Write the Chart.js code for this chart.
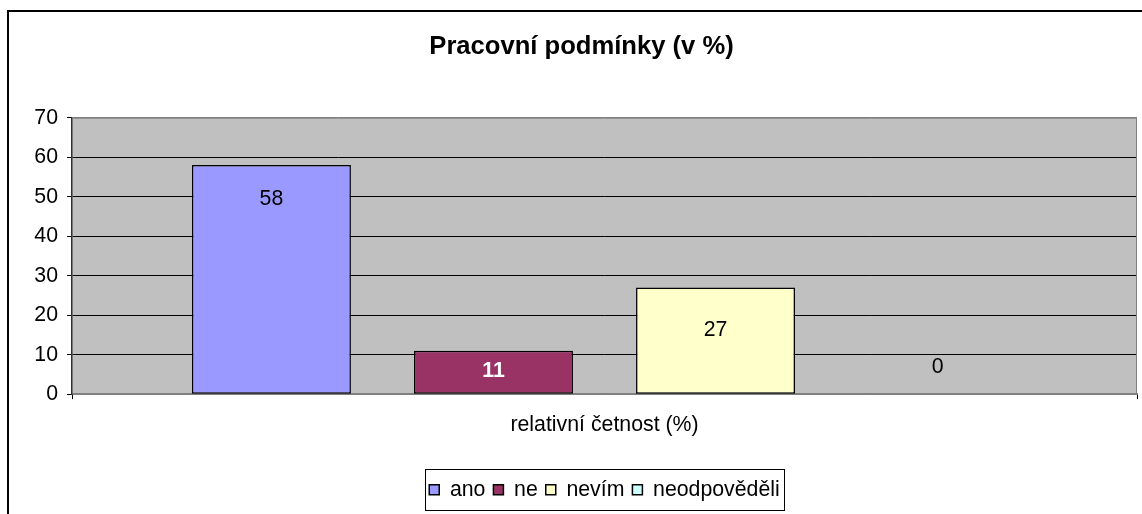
<!DOCTYPE html>
<html>
<head>
<meta charset="utf-8">
<script src="https://cdn.jsdelivr.net/npm/chart.js@4.4.0/dist/chart.umd.min.js"></script>
<style>
  html, body { margin: 0; padding: 0; background: #fff; overflow: hidden; }
  #wrap { width: 1142px; height: 514px; position: relative; }
</style>
</head>
<body>
<div id="wrap"><canvas id="chart"></canvas></div>
<script>
// data
const categories = ["relativní četnost (%)"];
const seriesNames = ["ano", "ne", "nevím", "neodpověděli"];
const seriesValues = [58, 11, 27, 0];
const yTicks = [0, 10, 20, 30, 40, 50, 60, 70];

// styles
const seriesColors = ["#9999FF", "#993366", "#FFFFCC", "#CCFFFF"];
const labelColors = ["#000", "#fff", "#000", "#000"];
const labelBold = [false, true, false, false];
const labelShift = [34, 20, 43, -27]; // px below bar top
const FONT = "'Liberation Sans', Arial, sans-serif";
const FS = 21.3;

const datasets = seriesNames.map((name, i) => ({
  label: name,
  data: [seriesValues[i]],
  backgroundColor: seriesColors[i],
  borderColor: "#000",
  borderWidth: 1.5,
  borderSkipped: false,
  categoryPercentage: 0.834,
  barPercentage: 0.716,
}));

// grey plot area + outer frame
const plotBg = {
  id: "plotBg",
  beforeDraw(chart) {
    const { ctx, chartArea: a } = chart;
    ctx.save();
    ctx.fillStyle = "#C0C0C0";
    ctx.fillRect(a.left, a.top, a.right - a.left, a.bottom - a.top);
    ctx.strokeStyle = "#000";
    ctx.lineWidth = 2;
    ctx.strokeRect(8, 11, 1200, 600);
    ctx.restore();
  },
  beforeDatasetsDraw(chart) {
    const { ctx, chartArea: a } = chart;
    ctx.save();
    ctx.strokeStyle = "#808080";
    ctx.lineWidth = 1;
    ctx.beginPath();
    ctx.moveTo(a.left, a.top + 0.5);
    ctx.lineTo(a.right - 0.5, a.top + 0.5);
    ctx.lineTo(a.right - 0.5, a.bottom);
    ctx.stroke();
    ctx.restore();
  },
};

// value labels
const valueLabels = {
  id: "valueLabels",
  afterDatasetsDraw(chart) {
    const { ctx } = chart;
    ctx.save();
    ctx.textAlign = "center";
    ctx.textBaseline = "middle";
    chart.data.datasets.forEach((ds, i) => {
      const bar = chart.getDatasetMeta(i).data[0];
      ctx.font = (labelBold[i] ? "bold " : "") + FS + "px " + FONT;
      ctx.fillStyle = labelColors[i];
      ctx.fillText(String(ds.data[0]), bar.x, bar.y + labelShift[i]);
    });
    ctx.restore();
  },
};

// border around legend
const legendBox = {
  id: "legendBox",
  afterDraw(chart) {
    const boxes = chart.legend.legendHitBoxes;
    if (!boxes || !boxes.length) return;
    let x0 = Infinity, x1 = -Infinity, cy = 0;
    boxes.forEach((b) => {
      x0 = Math.min(x0, b.left);
      x1 = Math.max(x1, b.left + b.width);
      cy += b.top + b.height / 2;
    });
    cy /= boxes.length;
    const { ctx } = chart;
    ctx.save();
    ctx.strokeStyle = "#000";
    ctx.lineWidth = 1;
    ctx.strokeRect(Math.round(x0 - 4) + 0.5, Math.round(cy - 20.5) + 0.5, Math.round(x1 - x0 + 8), 41);
    ctx.restore();
  },
};

new Chart(document.getElementById("chart"), {
  type: "bar",
  data: { labels: categories, datasets: datasets },
  plugins: [plotBg, valueLabels, legendBox],
  options: {
    responsive: true,
    maintainAspectRatio: false,
    animation: false,
    layout: { padding: { left: 26, right: 5, top: 0, bottom: 3.5 } },
    plugins: {
      title: {
        display: true,
        text: "Pracovní podmínky (v %)",
        color: "#000",
        font: { family: FONT, size: 25.6, weight: "bold" },
        padding: { top: 32, bottom: 55 },
      },
      legend: {
        position: "bottom",
        fullSize: false,
        labels: {
          color: "#000",
          font: { family: FONT, size: FS },
          boxWidth: 10,
          boxHeight: 10,
          padding: 8,
        },
      },
      tooltip: { enabled: false },
    },
    scales: {
      x: {
        offset: true,
        afterFit(scale) {
          scale.height += 20.5;
        },
        grid: { display: true, drawOnChartArea: false, tickLength: 5, color: "#000" },
        border: { color: "#808080", width: 1.5 },
        ticks: { color: "#000", font: { family: FONT, size: FS }, padding: 13 },
      },
      y: {
        min: 0,
        max: 70,
        afterBuildTicks(scale) {
          scale.ticks = yTicks.map((v) => ({ value: v }));
        },
        afterFit(scale) {
          scale.width = 46;
        },
        grid: {
          tickLength: 5,
          tickColor: "#000",
          color: (c) => (c.tick && (c.tick.value === 70 || c.tick.value === 0) ? "#808080" : "#000"),
        },
        border: { color: "#303030", width: 1.5 },
        ticks: { color: "#000", font: { family: FONT, size: FS }, padding: 9 },
      },
    },
  },
});
</script>
</body>
</html>
